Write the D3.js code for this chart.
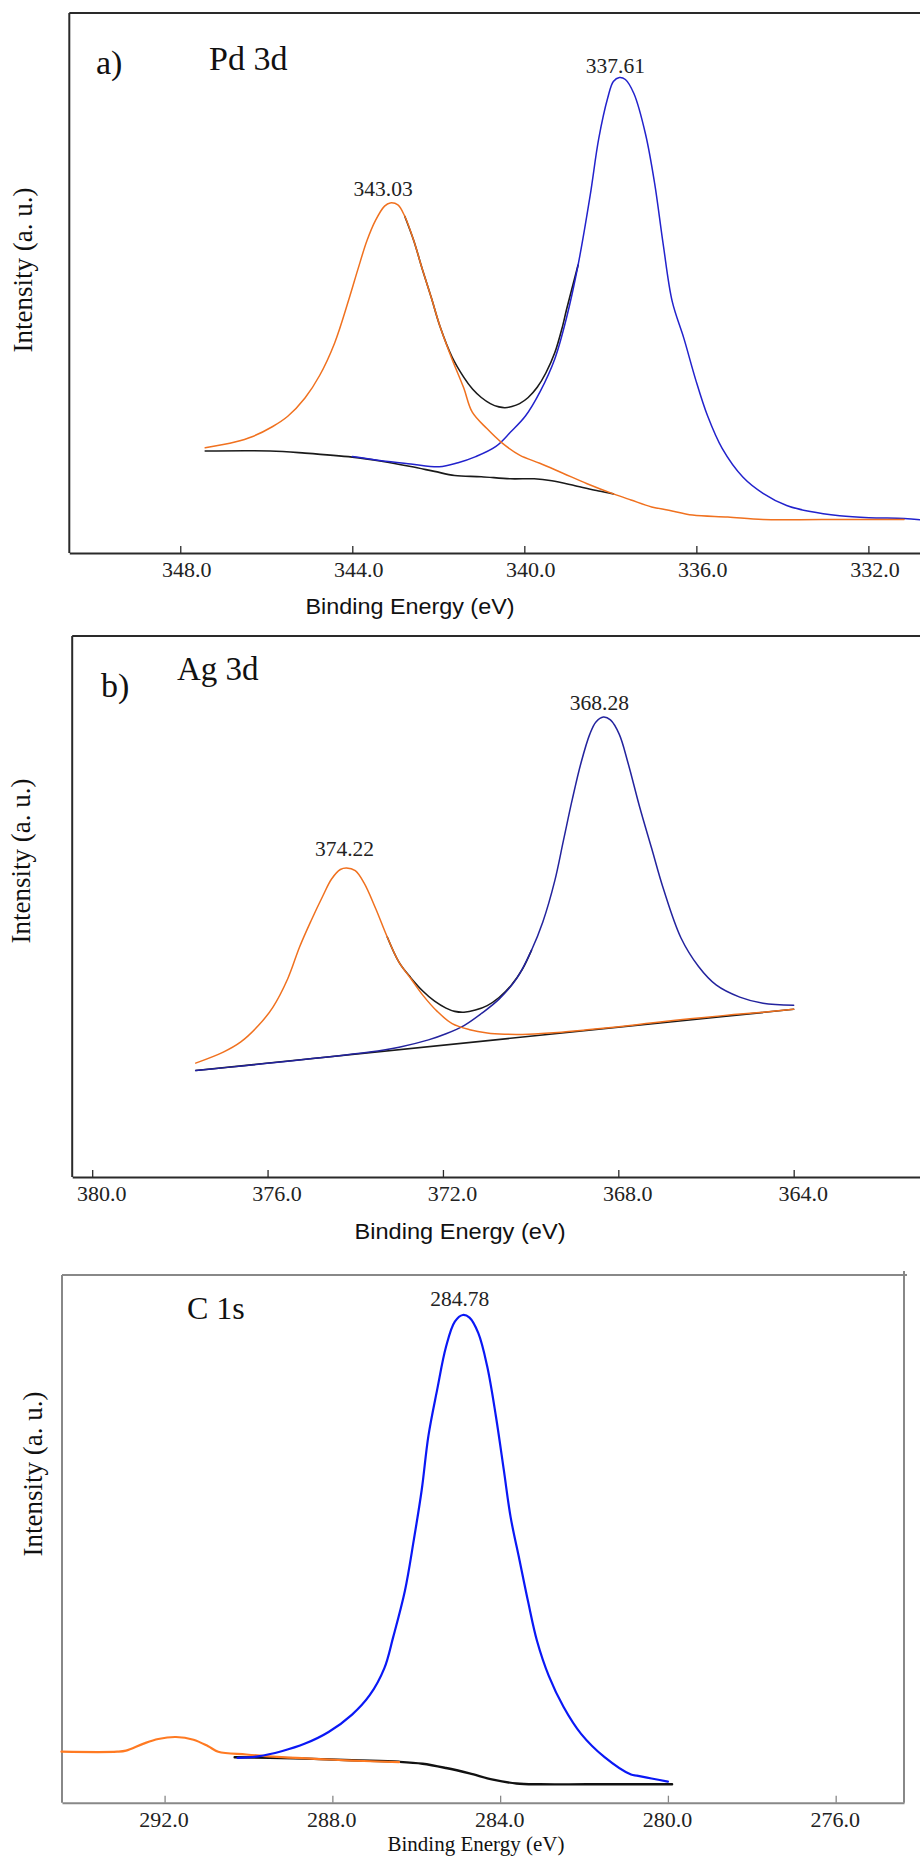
<!DOCTYPE html>
<html><head><meta charset="utf-8">
<script src="https://cdn.jsdelivr.net/npm/d3@7"></script>
<style>body{margin:0;background:#fff}</style>
</head><body>
<svg id="chart" width="920" height="1856"></svg>
<script>
// ---------------- Panel a) Pd 3d ----------------
const pdTicks = [348, 344, 340, 336, 332];
const pdPeakLabels = ["343.03", "337.61"];
const pdOrange = [[347.42,10.52],[346.73,11.10],[346.33,11.63],[345.85,12.65],[345.50,13.67],[345.10,15.50],[344.76,17.75],[344.41,21.01],[344.07,25.50],[343.87,28.36],[343.66,31.22],[343.46,33.26],[343.25,34.69],[343.12,35.01],[342.94,34.81],[342.78,33.67],[342.57,31.22],[342.37,28.36],[342.16,25.50],[341.96,22.65],[341.68,19.38],[341.41,16.52],[341.21,14.08],[340.87,12.44],[340.52,11.01],[340.11,9.79],[339.64,8.97],[339.09,7.95],[338.54,6.93],[337.93,5.91],[337.52,5.30],[337.04,4.61],[336.64,4.28],[336.09,3.79],[335.27,3.59],[334.45,3.34],[333.09,3.34],[331.17,3.34]];
const pdBlue = [[344.00,9.64],[343.32,9.23],[342.64,8.91],[341.98,8.62],[341.54,9.03],[341.13,9.64],[340.66,10.66],[340.32,12.09],[339.97,13.72],[339.63,16.16],[339.29,19.43],[339.02,23.50],[338.75,28.80],[338.47,35.73],[338.27,41.44],[338.06,45.52],[337.93,47.15],[337.79,47.55],[337.65,47.35],[337.45,45.92],[337.18,41.85],[336.97,36.96],[336.77,30.84],[336.56,25.13],[336.29,21.46],[336.02,17.39],[335.74,13.72],[335.40,10.46],[334.92,7.60],[334.45,5.97],[333.90,4.75],[333.35,4.14],[332.67,3.73],[331.99,3.53],[331.17,3.45],[330.80,3.32]];
const pdBackground = [[347.42,10.20],[345.91,10.20],[345.10,9.99],[344.00,9.59],[343.32,9.18],[342.64,8.65],[342.09,8.16],[341.62,7.75],[341.00,7.63],[340.32,7.42],[339.77,7.42],[339.36,7.22],[338.82,6.73],[338.27,6.20],[337.93,5.91]];
const pdEnvelope = [[342.78,33.67],[342.57,31.22],[342.37,28.36],[342.16,25.50],[341.96,22.65],[341.68,19.60],[341.41,17.59],[341.20,16.37],[341.00,15.55],[340.79,14.94],[340.59,14.61],[340.45,14.53],[340.29,14.65],[340.11,14.94],[339.91,15.55],[339.70,16.57],[339.50,18.00],[339.29,20.04],[339.11,22.69],[339.02,24.32],[338.75,28.80]];

// ---------------- Panel b) Ag 3d ----------------
const agTicks = [380, 376, 372, 368, 364];
const agPeakLabels = ["374.22", "368.28"];
const agOrange = [[377.64,11.39],[377.01,12.49],[376.61,13.51],[376.21,15.14],[375.88,16.97],[375.54,19.83],[375.27,23.00],[375.01,25.60],[374.74,28.10],[374.54,29.80],[374.34,30.75],[374.20,30.91],[374.00,30.63],[373.80,29.41],[373.53,26.80],[373.27,24.00],[373.00,21.46],[372.73,19.83],[372.46,18.19],[372.13,16.56],[371.79,15.34],[371.39,14.73],[370.99,14.40],[370.59,14.28],[370.05,14.28],[369.38,14.45],[368.71,14.73],[368.04,15.01],[367.37,15.34],[366.70,15.67],[366.04,15.95],[365.37,16.24],[364.70,16.48],[364.00,16.77]];
const agBlue = [[377.64,10.65],[373.67,12.49],[373.00,12.98],[372.33,13.71],[371.93,14.32],[371.52,15.14],[371.12,16.36],[370.72,17.79],[370.32,19.83],[369.98,22.68],[369.72,25.53],[369.45,29.61],[369.25,33.69],[369.05,37.76],[368.85,41.43],[368.65,44.29],[368.51,45.51],[368.34,46.00],[368.18,45.71],[367.98,44.29],[367.78,41.43],[367.51,36.95],[367.24,32.87],[366.97,28.79],[366.57,23.90],[366.17,21.05],[365.77,19.21],[365.23,17.99],[364.70,17.38],[364.00,17.18]];
const agBackground = [[377.64,10.65],[364.00,16.77]];
const agEnvelope = [[373.27,24.00],[373.00,21.46],[372.73,19.91],[372.46,18.60],[372.19,17.58],[371.93,16.89],[371.73,16.56],[371.52,16.48],[371.26,16.69],[370.99,17.14],[370.72,17.95],[370.45,19.13],[370.19,20.76],[369.98,22.68]];

// ---------------- Panel c) C 1s ----------------
const cTicks = [292, 288, 284, 280, 276];
const cPeakLabels = ["284.78"];
const cOrange = [[294.46,5.10],[293.13,5.10],[292.92,5.21],[292.50,5.91],[292.15,6.37],[291.73,6.57],[291.31,6.30],[290.96,5.64],[290.72,5.10],[290.05,4.82],[289.21,4.55],[288.09,4.32],[287.25,4.17],[286.41,4.05]];
const cBlue = [[290.26,4.48],[289.77,4.63],[289.21,5.14],[288.65,5.91],[288.09,7.07],[287.53,8.81],[287.11,10.75],[286.76,13.46],[286.55,16.56],[286.27,21.20],[286.06,26.23],[285.87,31.27],[285.71,36.69],[285.50,41.33],[285.29,45.59],[285.08,48.11],[284.89,48.77],[284.73,48.50],[284.52,46.95],[284.31,43.66],[284.10,38.62],[283.91,33.20],[283.75,28.56],[283.54,24.30],[283.33,20.04],[283.12,16.17],[282.84,12.68],[282.49,9.59],[282.07,6.88],[281.51,4.55],[280.88,2.81],[280.74,2.70],[280.39,2.42],[280.00,2.11]];
const cBackground = [[290.33,4.55],[288.93,4.44],[287.53,4.24],[286.41,4.09],[285.85,3.90],[285.29,3.47],[284.73,2.93],[284.17,2.31],[283.61,1.92],[283.05,1.84],[281.93,1.84],[279.90,1.84]];

const xTitle = "Binding Energy (eV)";
const yTitle = "Intensity (a. u.)";

// ---------------- drawing ----------------
const svg = d3.select("#chart");
const serif = "'Liberation Serif','Times New Roman',serif";
const sans = "'Liberation Sans',Arial,sans-serif";

function drawPanel(cfg) {
  const x = d3.scaleLinear().domain(cfg.xDomain).range([cfg.left, cfg.right]);
  const y = d3.scaleLinear().domain(cfg.yDomain).range([cfg.bottom, cfg.top]);
  const g = svg.append("g");

  // frame
  g.append("line").attr("x1", cfg.left).attr("x2", cfg.frameRight).attr("y1", cfg.top).attr("y2", cfg.top)
    .attr("stroke", cfg.frameColor).attr("stroke-width", cfg.frameWidth);
  g.append("line").attr("x1", cfg.left).attr("x2", cfg.left).attr("y1", cfg.top).attr("y2", cfg.bottom)
    .attr("stroke", cfg.frameColor).attr("stroke-width", cfg.frameWidth);
  if (cfg.rightBorder) {
    g.append("line").attr("x1", cfg.right).attr("x2", cfg.right).attr("y1", cfg.top - 4).attr("y2", cfg.bottom)
      .attr("stroke", cfg.frameColor).attr("stroke-width", cfg.frameWidth);
  }

  // axis
  const axis = d3.axisBottom(x).tickValues(cfg.ticks).tickFormat(d3.format(".1f"))
    .tickSizeInner(-7).tickSizeOuter(0);
  const ax = g.append("g").attr("transform", `translate(0,${cfg.bottom})`).call(axis);
  ax.attr("font-family", serif);
  ax.select(".domain").attr("stroke", cfg.frameColor).attr("stroke-width", cfg.frameWidth);
  ax.selectAll(".tick line").attr("stroke", cfg.frameColor).attr("stroke-width", 1.3);
  ax.selectAll(".tick text").attr("y", 24).attr("dy", null).attr("dx", cfg.tickDx)
    .attr("font-family", serif).attr("font-size", 22).attr("fill", "#222");

  // curves
  const line = d3.line().x(d => x(d[0])).y(d => y(d[1])).curve(d3.curveCatmullRom.alpha(0.5));
  cfg.series.forEach(s => {
    g.append("path").datum(s.data).attr("d", line).attr("fill", "none")
      .attr("stroke", s.color).attr("stroke-width", s.width)
      .attr("stroke-linejoin", "round").attr("stroke-linecap", "round");
  });

  // peak labels at the apex of the given series
  cfg.peaks.forEach(p => {
    const apex = d3.greatest(p.data, d => d[1]);
    g.append("text").attr("x", x(apex[0]) + p.dx).attr("y", y(apex[1]) - p.gap)
      .attr("text-anchor", "middle").attr("font-family", serif).attr("font-size", 21.5)
      .attr("fill", "#222").text(p.text);
  });

  // panel texts
  cfg.texts.forEach(t => {
    g.append("text").attr("x", t.x).attr("y", t.y).attr("font-family", serif)
      .attr("font-size", t.size).attr("fill", "#111").text(t.text);
  });

  // x title
  const xt = g.append("text").attr("x", cfg.xTitle.x).attr("y", cfg.xTitle.y)
    .attr("text-anchor", "middle").attr("font-family", cfg.xTitle.font)
    .attr("font-size", cfg.xTitle.size).attr("fill", "#111").text(xTitle);
  if (cfg.xTitle.len) xt.attr("textLength", cfg.xTitle.len).attr("lengthAdjust", "spacingAndGlyphs");

  // y title
  g.append("text").attr("transform", `translate(${cfg.yTitle.x},${cfg.yTitle.y}) rotate(-90)`)
    .attr("text-anchor", "middle").attr("font-family", serif).attr("font-size", 27)
    .attr("fill", "#111").text(yTitle);
}

drawPanel({
  xDomain: [350.58, 330.80], yDomain: [0, 54],
  left: 69.3, right: 920, top: 13, bottom: 553, frameRight: 920,
  frameColor: "#2a2a2a", frameWidth: 2, rightBorder: false, tickDx: 6,
  ticks: pdTicks,
  series: [
    {data: pdBackground, color: "#1a1a1a", width: 1.6},
    {data: pdEnvelope, color: "#1a1a1a", width: 1.6},
    {data: pdBlue, color: "#2222cc", width: 1.5},
    {data: pdOrange, color: "#f0711f", width: 1.5}
  ],
  peaks: [
    {data: pdOrange, text: pdPeakLabels[0], dx: -7, gap: 7},
    {data: pdBlue, text: pdPeakLabels[1], dx: -4, gap: 5}
  ],
  texts: [
    {text: "a)", x: 96, y: 74, size: 34},
    {text: "Pd 3d", x: 209, y: 70, size: 34}
  ],
  xTitle: {x: 410, y: 614, font: sans, size: 22, len: 209},
  yTitle: {x: 32, y: 270}
});

drawPanel({
  xDomain: [380.456, 361.119], yDomain: [0, 54.1],
  left: 72.2, right: 920, top: 636, bottom: 1177, frameRight: 920,
  frameColor: "#2a2a2a", frameWidth: 2, rightBorder: false, tickDx: 9,
  ticks: agTicks,
  series: [
    {data: agBackground, color: "#1a1a1a", width: 1.6},
    {data: agEnvelope, color: "#1a1a1a", width: 1.6},
    {data: agBlue, color: "#23239e", width: 1.5},
    {data: agOrange, color: "#f0711f", width: 1.5}
  ],
  peaks: [
    {data: agOrange, text: agPeakLabels[0], dx: -2, gap: 12},
    {data: agBlue, text: agPeakLabels[1], dx: -4, gap: 7}
  ],
  texts: [
    {text: "b)", x: 101, y: 697, size: 34},
    {text: "Ag 3d", x: 177, y: 680, size: 33}
  ],
  xTitle: {x: 460, y: 1239, font: sans, size: 22, len: 211},
  yTitle: {x: 29.5, y: 861}
});

drawPanel({
  xDomain: [294.446, 274.371], yDomain: [0, 52.77],
  left: 62, right: 904, top: 1275, bottom: 1802.7, frameRight: 907,
  frameColor: "#888888", frameWidth: 2, rightBorder: true, tickDx: -1,
  ticks: cTicks,
  series: [
    {data: cBackground, color: "#111111", width: 2.4},
    {data: cOrange, color: "#ff7a22", width: 2.2},
    {data: cBlue, color: "#0a18f5", width: 2.2}
  ],
  peaks: [
    {data: cBlue, text: cPeakLabels[0], dx: -3, gap: 9}
  ],
  texts: [
    {text: "C 1s", x: 187, y: 1319, size: 32}
  ],
  xTitle: {x: 476, y: 1851, font: serif, size: 21},
  yTitle: {x: 42, y: 1474}
});
</script>
</body></html>
